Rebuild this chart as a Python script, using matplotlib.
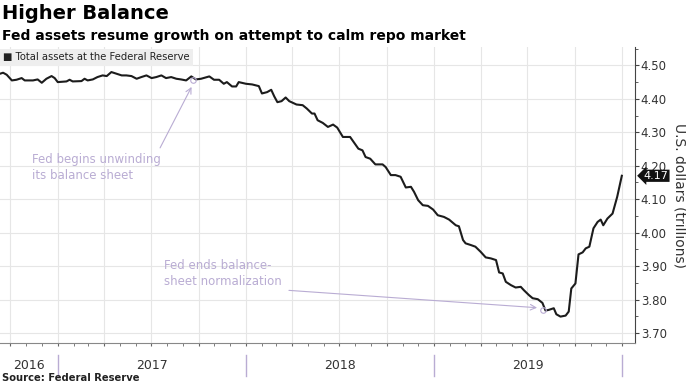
import numpy as np
import pandas as pd
import matplotlib
matplotlib.use("Agg")
import matplotlib.pyplot as plt
import matplotlib.dates as mdates
import matplotlib.transforms as mtransforms

# Fed total assets, trillions of US dollars
dates = [
    "2016-09-11", "2016-09-17", "2016-09-24", "2016-10-04", "2016-10-13", "2016-10-23",
    "2016-10-29", "2016-11-14", "2016-11-23", "2016-12-01", "2016-12-10", "2016-12-20",
    "2016-12-26", "2017-01-01", "2017-01-18", "2017-01-24", "2017-01-30", "2017-02-16",
    "2017-02-22", "2017-02-28", "2017-03-10", "2017-03-19", "2017-03-29", "2017-04-06",
    "2017-04-15", "2017-04-25", "2017-05-05", "2017-05-14", "2017-05-24", "2017-06-03",
    "2017-06-12", "2017-06-22", "2017-07-02", "2017-07-11", "2017-07-21", "2017-07-30",
    "2017-08-09", "2017-08-19", "2017-08-28", "2017-09-07", "2017-09-17", "2017-09-26",
    "2017-10-06", "2017-10-22", "2017-10-31", "2017-11-10", "2017-11-19", "2017-11-25",
    "2017-12-05", "2017-12-13", "2017-12-18", "2018-01-01", "2018-01-13", "2018-01-26",
    "2018-02-01", "2018-02-11", "2018-02-19", "2018-02-25", "2018-03-03", "2018-03-11",
    "2018-03-19", "2018-03-26", "2018-04-09", "2018-04-21", "2018-04-29", "2018-05-09",
    "2018-05-14", "2018-05-20", "2018-05-30", "2018-06-09", "2018-06-19", "2018-06-27",
    "2018-07-08", "2018-07-22", "2018-07-28", "2018-08-07", "2018-08-15", "2018-08-21",
    "2018-08-30", "2018-09-09", "2018-09-23", "2018-09-29", "2018-10-09", "2018-10-18",
    "2018-10-28", "2018-11-07", "2018-11-17", "2018-11-23", "2018-12-01", "2018-12-10",
    "2018-12-20", "2018-12-30", "2019-01-08", "2019-01-20", "2019-01-30", "2019-02-12",
    "2019-02-18", "2019-02-26", "2019-03-03", "2019-03-13", "2019-03-22", "2019-04-01",
    "2019-04-11", "2019-04-21", "2019-05-01", "2019-05-07", "2019-05-14", "2019-05-20",
    "2019-05-30", "2019-06-08", "2019-06-18", "2019-06-24", "2019-07-04", "2019-07-11",
    "2019-07-21", "2019-07-30", "2019-08-05", "2019-08-11", "2019-08-21", "2019-08-26",
    "2019-09-03", "2019-09-13", "2019-09-19", "2019-09-24", "2019-10-02", "2019-10-08",
    "2019-10-16", "2019-10-22", "2019-10-29", "2019-11-06", "2019-11-14", "2019-11-20",
    "2019-11-25", "2019-12-03", "2019-12-13", "2019-12-22", "2019-12-31",
]
assets = [
    4.475, 4.478, 4.472, 4.455, 4.457, 4.462,
    4.455, 4.455, 4.458, 4.448, 4.460, 4.468,
    4.462, 4.450, 4.452, 4.457, 4.452, 4.453,
    4.460, 4.455, 4.458, 4.465, 4.470, 4.468,
    4.480, 4.475, 4.470, 4.470, 4.468, 4.460,
    4.465, 4.470, 4.462, 4.465, 4.470, 4.462,
    4.465, 4.460, 4.458, 4.455, 4.467, 4.458,
    4.460, 4.467, 4.457, 4.457, 4.445, 4.450,
    4.437, 4.437, 4.450, 4.445, 4.443, 4.438,
    4.416, 4.420, 4.427, 4.407, 4.390, 4.393,
    4.404, 4.393, 4.383, 4.381, 4.371, 4.356,
    4.356, 4.336, 4.328, 4.316, 4.323, 4.314,
    4.286, 4.286, 4.273, 4.251, 4.246, 4.226,
    4.221, 4.204, 4.204, 4.196, 4.172, 4.172,
    4.167, 4.135, 4.137, 4.122, 4.097, 4.082,
    4.080, 4.069, 4.052, 4.047, 4.039, 4.022,
    4.019, 3.978, 3.968, 3.963, 3.958, 3.943,
    3.926, 3.923, 3.918, 3.881, 3.878, 3.853,
    3.843, 3.836, 3.838, 3.828, 3.813, 3.804,
    3.801, 3.790, 3.767, 3.769, 3.774, 3.756,
    3.749, 3.752, 3.764, 3.833, 3.848, 3.935,
    3.941, 3.953, 3.958, 4.013, 4.032, 4.039,
    4.022, 4.042, 4.057, 4.107, 4.170,
]
last_label = "4.17"
years = ["2016", "2017", "2018", "2019"]
year_spans = [("2016-09-11", "2017-01-01"), ("2017-01-01", "2018-01-01"),
              ("2018-01-01", "2019-01-01"), ("2019-01-01", "2020-01-01")]
year_breaks = ["2017-01-01", "2018-01-01", "2019-01-01", "2020-01-01"]

note1 = "Fed begins unwinding\nits balance sheet"
note1_date, note1_val = "2017-09-20", 4.455
note2 = "Fed ends balance-\nsheet normalization"
note2_date, note2_val = "2019-08-01", 3.770

purple = "#b9acd3"
grid_c = "#e6e6e6"
dark = "#1c1c1c"

x = pd.to_datetime(dates)

fig = plt.figure(figsize=(6.86, 3.85), dpi=100)
ax = fig.add_axes([0.0, 0.109, 0.926, 0.769])

ax.plot(x, assets, color=dark, lw=1.5, zorder=3)

ax.set_xlim(pd.Timestamp("2016-09-11"), pd.Timestamp("2020-01-26"))
ax.set_ylim(3.67, 4.555)

# grid
ax.set_yticks(np.arange(3.7, 4.51, 0.1))
ax.yaxis.set_minor_locator(matplotlib.ticker.MultipleLocator(0.05))
ax.xaxis.set_major_locator(mdates.MonthLocator(bymonth=[1, 4, 7, 10]))
ax.xaxis.set_minor_locator(mdates.MonthLocator())
ax.grid(True, which="major", color=grid_c, lw=0.8)
ax.set_xticklabels([])
ax.tick_params(axis="x", which="both", length=2, color="#666666", direction="out")

ax.yaxis.tick_right()
ax.yaxis.set_label_position("right")
ax.yaxis.set_major_formatter(matplotlib.ticker.FormatStrFormatter("%.2f"))
ax.tick_params(axis="y", which="major", length=3, color="#444444", labelsize=8.5,
               labelcolor="#333333", pad=1)
ax.tick_params(axis="y", which="minor", length=2, color="#444444")
ax.set_ylabel("U.S. dollars (trillions)", rotation=270, labelpad=14, fontsize=10,
              color="#333333")

for s in ["top", "left"]:
    ax.spines[s].set_visible(False)
ax.spines["right"].set_color("#444444")
ax.spines["bottom"].set_color("#888888")

# year labels and separators below the axis
trans = mtransforms.blended_transform_factory(ax.transData, ax.transAxes)
for lab, (a, b) in zip(years, year_spans):
    mid = pd.Timestamp(a) + (pd.Timestamp(b) - pd.Timestamp(a)) / 2
    ax.text(mid, -0.075, lab, transform=trans, ha="center", va="center",
            fontsize=9, color="#333333")
for d in year_breaks:
    ax.plot([pd.Timestamp(d)] * 2, [-0.04, -0.11], transform=trans, color=purple,
            lw=1, clip_on=False)

# legend box
ax.text(0.004, 0.965, "\u25a0 Total assets at the Federal Reserve", transform=ax.transAxes,
        fontsize=7.2, color="#222222", va="center", ha="left",
        bbox=dict(boxstyle="square,pad=0.35", facecolor="#eeeeee", edgecolor="none"))

# last value tag
ax.annotate(last_label, xy=(1.0, assets[-1]), xycoords=ax.get_yaxis_transform(),
            xytext=(6, 0), textcoords="offset points", ha="left", va="center",
            fontsize=8, color="white",
            bbox=dict(boxstyle="larrow,pad=0.1", facecolor="#111111", edgecolor="none"),
            annotation_clip=False, zorder=5)

# annotations
ax.plot(pd.Timestamp(note1_date), note1_val, marker="o", ms=4, mfc="none", mec=purple,
        mew=0.8, zorder=4)
ax.annotate("", xy=(pd.Timestamp(note1_date), note1_val - 0.012),
            xytext=(pd.Timestamp("2017-07-16"), 4.246),
            arrowprops=dict(arrowstyle="->", color=purple, lw=0.8))
ax.text(pd.Timestamp("2016-11-12"), 4.237, note1, fontsize=8.5, color=purple,
        va="top", ha="left", linespacing=1.3)

ax.plot(pd.Timestamp(note2_date), note2_val, marker="o", ms=4, mfc="none", mec=purple,
        mew=0.8, zorder=4)
ax.annotate("", xy=(pd.Timestamp("2019-07-25"), 3.775),
            xytext=(pd.Timestamp("2018-03-20"), 3.828),
            arrowprops=dict(arrowstyle="->", color=purple, lw=0.8))
ax.text(pd.Timestamp("2017-07-26"), 3.921, note2, fontsize=8.5, color=purple,
        va="top", ha="left", linespacing=1.3)

# titles
fig.text(0.003, 0.99, "Higher Balance", fontsize=14, fontweight="bold", color="black",
         va="top", ha="left")
fig.text(0.003, 0.925, "Fed assets resume growth on attempt to calm repo market",
         fontsize=10, fontweight="bold", color="black", va="top", ha="left")
fig.text(0.003, 0.004, "Source: Federal Reserve", fontsize=7.2, fontweight="bold",
         color="#222222", va="bottom", ha="left")

fig.savefig("out.png", dpi=100)
